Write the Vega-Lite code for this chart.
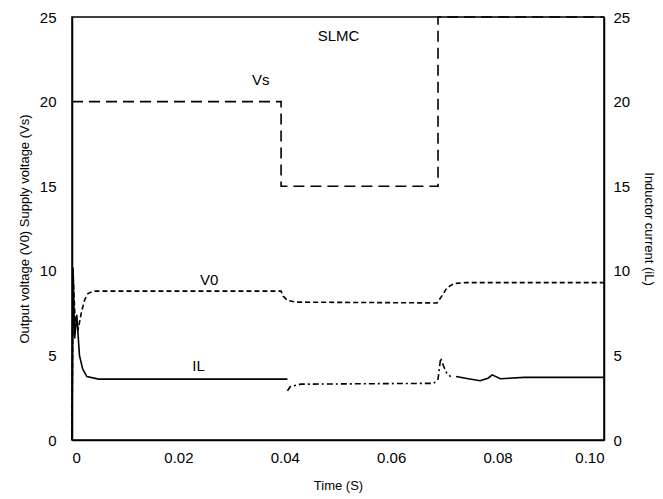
{
  "$schema": "https://vega.github.io/schema/vega-lite/v6.json",
  "width": 532,
  "height": 423,
  "autosize": {"type": "none"},
  "padding": {"left": 72, "top": 17, "right": 59, "bottom": 59},
  "background": "white",
  "config": {
    "font": "Liberation Sans",
    "view": {"stroke": "black", "strokeWidth": 1.5},
    "axis": {
      "grid": false,
      "ticks": false,
      "tickSize": 0,
      "domainColor": "black",
      "domainWidth": 1.5,
      "labelColor": "black",
      "labelFontSize": 15,
      "titleColor": "black",
      "titleFontSize": 13,
      "titleFontWeight": "normal"
    }
  },
  "datasets": {
    "volts": [
      {"t": 0, "v": 20, "s": "Vs"},
      {"t": 0.0393, "v": 20, "s": "Vs"},
      {"t": 0.0393, "v": 15, "s": "Vs"},
      {"t": 0.0688, "v": 15, "s": "Vs"},
      {"t": 0.0688, "v": 25, "s": "Vs"},
      {"t": 0.1, "v": 25, "s": "Vs"},
      {"t": 0, "v": 0, "s": "V0"},
      {"t": 0.0002, "v": 9.8, "s": "V0"},
      {"t": 0.0006, "v": 7.0, "s": "V0"},
      {"t": 0.0012, "v": 6.6, "s": "V0"},
      {"t": 0.0018, "v": 7.6, "s": "V0"},
      {"t": 0.0024, "v": 8.3, "s": "V0"},
      {"t": 0.003, "v": 8.65, "s": "V0"},
      {"t": 0.004, "v": 8.8, "s": "V0"},
      {"t": 0.0393, "v": 8.8, "s": "V0"},
      {"t": 0.0397, "v": 8.5, "s": "V0"},
      {"t": 0.0405, "v": 8.25, "s": "V0"},
      {"t": 0.042, "v": 8.15, "s": "V0"},
      {"t": 0.0686, "v": 8.1, "s": "V0"},
      {"t": 0.0695, "v": 8.5, "s": "V0"},
      {"t": 0.0705, "v": 9.0, "s": "V0"},
      {"t": 0.0718, "v": 9.25, "s": "V0"},
      {"t": 0.074, "v": 9.3, "s": "V0"},
      {"t": 0.1, "v": 9.3, "s": "V0"}
    ],
    "current": [
      {"t": 0, "v": 0, "seg": "a"},
      {"t": 0.0002, "v": 10.2, "seg": "a"},
      {"t": 0.0005, "v": 6.0, "seg": "a"},
      {"t": 0.0009, "v": 7.4, "seg": "a"},
      {"t": 0.0014, "v": 5.0, "seg": "a"},
      {"t": 0.002, "v": 4.2, "seg": "a"},
      {"t": 0.0028, "v": 3.75, "seg": "a"},
      {"t": 0.005, "v": 3.6, "seg": "a"},
      {"t": 0.0405, "v": 3.6, "seg": "a"},
      {"t": 0.0405, "v": 2.9, "seg": "b"},
      {"t": 0.041, "v": 3.15, "seg": "b"},
      {"t": 0.043, "v": 3.3, "seg": "b"},
      {"t": 0.068, "v": 3.35, "seg": "b"},
      {"t": 0.0688, "v": 3.6, "seg": "b"},
      {"t": 0.0693, "v": 4.85, "seg": "b"},
      {"t": 0.0698, "v": 4.4, "seg": "b"},
      {"t": 0.0705, "v": 3.9, "seg": "b"},
      {"t": 0.0712, "v": 3.75, "seg": "b"},
      {"t": 0.0722, "v": 3.75, "seg": "c"},
      {"t": 0.0745, "v": 3.62, "seg": "c"},
      {"t": 0.0767, "v": 3.5, "seg": "c"},
      {"t": 0.0782, "v": 3.65, "seg": "c"},
      {"t": 0.079, "v": 3.85, "seg": "c"},
      {"t": 0.0805, "v": 3.62, "seg": "c"},
      {"t": 0.085, "v": 3.7, "seg": "c"},
      {"t": 0.1, "v": 3.7, "seg": "c"}
    ],
    "labels": [
      {"t": 0.0355, "v": 21.3, "label": "Vs"},
      {"t": 0.0501, "v": 23.9, "label": "SLMC"},
      {"t": 0.0258, "v": 9.45, "label": "V0"},
      {"t": 0.0238, "v": 4.4, "label": "IL"}
    ]
  },
  "layer": [
    {
      "data": {"name": "volts"},
      "mark": {"type": "line", "color": "black", "strokeWidth": 1.6, "interpolate": "linear"},
      "encoding": {
        "x": {
          "field": "t", "type": "quantitative",
          "scale": {"domain": [0, 0.1], "nice": false, "zero": false},
          "axis": {
            "title": "Time (S)",
            "values": [0, 0.02, 0.04, 0.06, 0.08, 0.1],
            "labelExpr": "datum.value == 0 ? '0' : format(datum.value, '.2f')",
            "labelPadding": 10,
            "titlePadding": 14
          }
        },
        "y": {
          "field": "v", "type": "quantitative",
          "scale": {"domain": [0, 25], "nice": false},
          "axis": {
            "title": "Output voltage (V0)  Supply voltage (Vs)",
            "values": [0, 5, 10, 15, 20, 25],
            "labelPadding": 16,
            "titlePadding": 8
          }
        },
        "detail": {"field": "s"},
        "strokeDash": {
          "field": "s", "type": "nominal",
          "scale": {"domain": ["Vs", "V0"], "range": [[11, 6], [5, 3]]},
          "legend": null
        }
      }
    },
    {
      "data": {"name": "current"},
      "transform": [{"filter": "datum.seg != 'b'"}],
      "mark": {"type": "line", "color": "black", "strokeWidth": 1.6},
      "encoding": {
        "x": {
          "field": "t", "type": "quantitative",
          "scale": {"domain": [0, 0.1], "nice": false, "zero": false}
        },
        "y": {
          "field": "v", "type": "quantitative",
          "scale": {"domain": [0, 25], "nice": false},
          "axis": {
            "orient": "right",
            "title": "Inductor current (iL)",
            "values": [0, 5, 10, 15, 20, 25],
            "labelPadding": 9,
            "titlePadding": 12
          }
        },
        "detail": {"field": "seg"}
      }
    },
    {
      "data": {"name": "current"},
      "transform": [{"filter": "datum.seg == 'b'"}],
      "mark": {"type": "line", "color": "black", "strokeWidth": 1.6, "strokeDash": [6, 3, 2, 3]},
      "encoding": {
        "x": {
          "field": "t", "type": "quantitative",
          "scale": {"domain": [0, 0.1], "nice": false, "zero": false}
        },
        "y": {
          "field": "v", "type": "quantitative",
          "scale": {"domain": [0, 25], "nice": false},
          "axis": null
        }
      }
    },
    {
      "data": {"name": "labels"},
      "mark": {"type": "text", "color": "black", "fontSize": 15, "font": "Liberation Sans", "align": "center", "baseline": "middle"},
      "encoding": {
        "x": {
          "field": "t", "type": "quantitative",
          "scale": {"domain": [0, 0.1], "nice": false, "zero": false}
        },
        "y": {
          "field": "v", "type": "quantitative",
          "scale": {"domain": [0, 25], "nice": false},
          "axis": null
        },
        "text": {"field": "label"}
      }
    }
  ],
  "resolve": {"scale": {"y": "independent"}}
}
